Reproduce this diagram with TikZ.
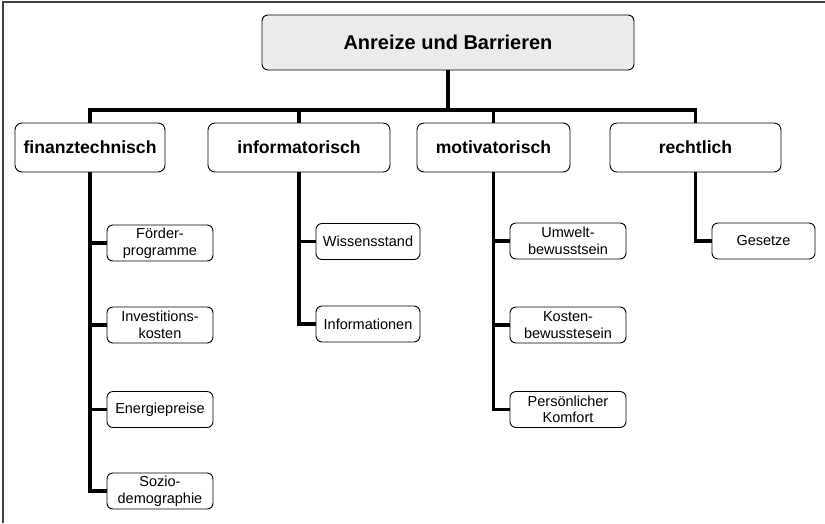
\documentclass[tikz,border=0pt]{standalone}
\usepackage{fontspec}
\setmainfont{Liberation Sans}
\usetikzlibrary{calc, positioning}
\tikzset{
  rootbox/.style ={draw, rounded corners=6pt, fill=black!8, line width=0.9pt, minimum width=372pt, minimum height=55pt, inner sep=0pt, font=\fontsize{20}{24}\selectfont\bfseries},
  catbox/.style  ={draw, rounded corners=7pt, fill=white, line width=0.9pt, minimum height=49pt, inner sep=0pt, font=\fontsize{17.6}{21}\selectfont\bfseries},
  subbox/.style  ={draw, rounded corners=6pt, fill=white, line width=0.9pt, minimum height=36pt, inner sep=0pt, align=center, font=\fontsize{14.5}{16.5}\selectfont},
  link/.style    ={line width=3.4pt, line join=miter},
  frame/.style   ={line width=1.2pt, black!75},
}

\begin{document}
\begin{tikzpicture}[x=1pt, y=-1pt]
  \useasboundingbox (0,0) rectangle (825,523);
  \draw[frame] (3,523) -- (3,2) -- (825,2);

  % root and categories
  \node[rootbox] (top) at (448,42.5) {Anreize und Barrieren};
  \node[catbox, minimum width=150pt] (fin) at (90,147.5) {finanztechnisch};
  \node[catbox, minimum width=182pt] (inf) at (299,147.5) {informatorisch};
  \node[catbox, minimum width=153pt] (mot) at (493.5,147.5) {motivatorisch};
  \node[catbox, minimum width=171pt] (rec) at (695.5,147.5) {rechtlich};
  \coordinate (bus) at (448,110);

  % sub items
  \node[subbox, minimum width=106pt] (fin1) at (160,243) {Förder-\\programme};
  \node[subbox, minimum width=106pt] (fin2) at (160,325) {Investitions-\\kosten};
  \node[subbox, minimum width=106pt] (fin3) at (160,409.5) {Energiepreise};
  \node[subbox, minimum width=106pt] (fin4) at (160,491) {Sozio-\\demographie};
  \node[subbox, minimum width=104pt] (inf1) at (368,241.5) {Wissensstand};
  \node[subbox, minimum width=104pt] (inf2) at (368,324) {Informationen};
  \node[subbox, minimum width=116pt] (mot1) at (568,241) {Umwelt-\\bewusstsein};
  \node[subbox, minimum width=116pt] (mot2) at (568,325) {Kosten-\\bewusstesein};
  \node[subbox, minimum width=116pt] (mot3) at (568,409.5) {Persönlicher\\Komfort};
  \node[subbox, minimum width=103pt] (rec1) at (763.5,241) {Gesetze};

  % bus
  \draw[link] (top.south) -- (top.south |- bus);
  \draw[link] (fin.north) -- (fin.north |- bus) -- (rec.north |- bus) -- (rec.north);
  \draw[link] (inf.north) -- (inf.north |- bus);
  \draw[link] (mot.north) -- (mot.north |- bus);

  % branches
  \foreach \c/\s in {fin/fin1, fin/fin2, fin/fin3, fin/fin4, inf/inf1, inf/inf2,
                     mot/mot1, mot/mot2, mot/mot3, rec/rec1}
    \draw[link] (\c.south) |- (\s.west);
\end{tikzpicture}
\end{document}
